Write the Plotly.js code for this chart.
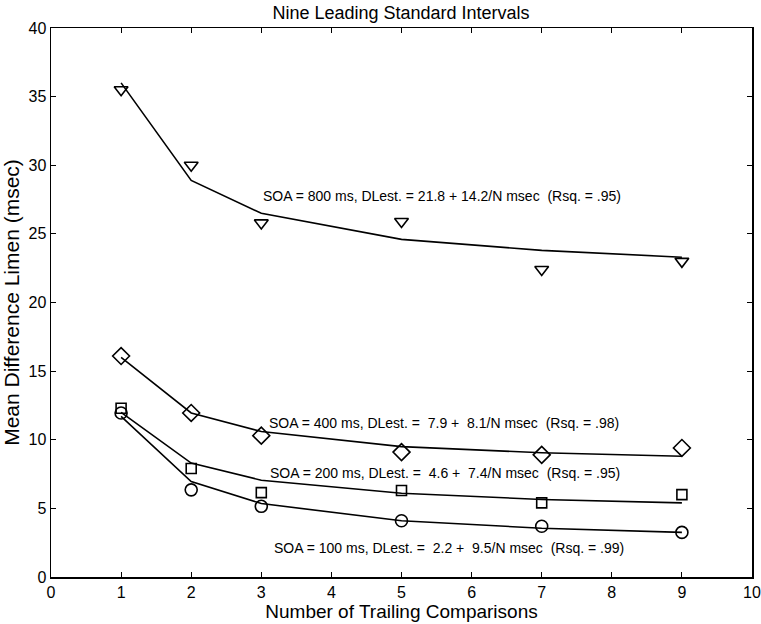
<!DOCTYPE html>
<html><head><meta charset="utf-8">
<script src="https://cdn.plot.ly/plotly-3.0.1.min.js"></script>
<style>body{margin:0;background:#fff}#c{width:761px;height:624px}</style>
</head><body><div id="c"></div>
<script>
const N = [1, 2, 3, 5, 7, 9];
const obs800 = [35.5, 30.0, 25.8, 25.9, 22.4, 23.0];
const fit800 = [36.0, 28.9, 26.5, 24.6, 23.8, 23.3];
const obs400 = [16.1, 11.95, 10.3, 9.1, 8.9, 9.4];
const fit400 = [16.0, 11.95, 10.6, 9.5, 9.05, 8.8];
const obs200 = [12.3, 7.9, 6.15, 6.3, 5.4, 6.0];
const fit200 = [12.0, 8.3, 7.05, 6.1, 5.65, 5.4];
const obs100 = [11.95, 6.35, 5.15, 4.1, 3.7, 3.25];
const fit100 = [11.7, 6.95, 5.35, 4.1, 3.55, 3.25];
const labels = [
  "SOA = 800 ms, DLest. = 21.8 + 14.2/N msec\u00A0 (Rsq. = .95)",
  "SOA = 400 ms, DLest. = \u00A07.9 + \u00A08.1/N msec\u00A0 (Rsq. = .98)",
  "SOA = 200 ms, DLest. = \u00A04.6 + \u00A07.4/N msec\u00A0 (Rsq. = .95)",
  "SOA = 100 ms, DLest. = \u00A02.2 + \u00A09.5/N msec\u00A0 (Rsq. = .99)"
];
const labelPos = [[3.0, 27.75], [3.08, 11.2], [3.1, 7.6], [3.15, 2.1]];
const FONT = 'Liberation Sans, Arial, sans-serif';

function fitTrace(y){return {x:N,y:y,mode:'lines',line:{color:'#000',width:1.6},hoverinfo:'skip',showlegend:false};}
function obsTrace(y,sym,size){return {x:N,y:y,mode:'markers',marker:{symbol:sym,size:size,color:'#000',line:{color:'#000',width:1.6}},showlegend:false};}

const data = [
  fitTrace(fit800), obsTrace(obs800,'triangle-down-open',12),
  fitTrace(fit400), obsTrace(obs400,'diamond-open',13),
  fitTrace(fit200), obsTrace(obs200,'square-open',10),
  fitTrace(fit100), obsTrace(obs100,'circle-open',12)
];

const ann = labels.map((t,i)=>({x:labelPos[i][0],y:labelPos[i][1],xref:'x',yref:'y',text:t,showarrow:false,xanchor:'left',yanchor:'middle',font:{family:FONT,size:14,color:'#000'}}));

const axisCommon = {showgrid:false,zeroline:false,showline:true,linecolor:'#000',linewidth:1.5,mirror:'allticks',ticks:'inside',ticklen:5,tickwidth:1,tickcolor:'#000',tickfont:{family:FONT,size:16,color:'#000'}};

const layout = {
  width:761,height:624,
  margin:{l:51,r:9,t:28,b:47},
  paper_bgcolor:'#fff',plot_bgcolor:'#fff',
  title:{text:'Nine Leading Standard Intervals',x:0.527,xanchor:'center',y:0.979,yanchor:'middle',font:{family:FONT,size:18,color:'#000'}},
  xaxis:Object.assign({},axisCommon,{range:[0,10],dtick:1,tick0:0,title:{text:'Number of Trailing Comparisons',standoff:2,font:{family:FONT,size:19,color:'#000'}}}),
  yaxis:Object.assign({},axisCommon,{range:[0,40],dtick:5,tick0:0,title:{text:'Mean Difference Limen (msec)',standoff:4,font:{family:FONT,size:21,color:'#000'}}}),
  annotations:ann,
  showlegend:false
};
Plotly.newPlot('c',data,layout,{displayModeBar:false,staticPlot:true});
</script>
</body></html>
